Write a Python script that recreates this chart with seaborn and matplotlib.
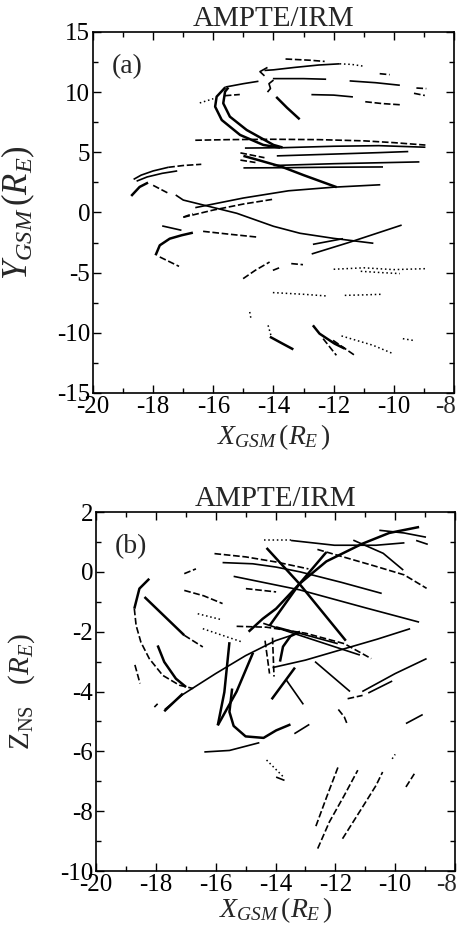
import matplotlib
matplotlib.use("Agg")
import matplotlib.pyplot as plt
import pandas as pd
import seaborn as sns
from matplotlib.ticker import MultipleLocator, FuncFormatter

# ---------------- data: spacecraft track segments (X_GSM, Y_GSM) ----------------
a01 = [(-15.6, 10.4), (-15.89, 9.62), (-15.94, 8.79), (-15.72, 7.68), (-15.11, 6.44), (-14.34, 5.61), (-13.78, 5.38)]
a02 = [(-15.5, 10.38), (-15.61, 10.04), (-15.67, 9.07), (-15.45, 7.96), (-14.89, 6.85), (-14.0, 5.61), (-13.7, 5.4)]
a03 = [(-15.6, 10.42), (-15.0, 10.7), (-14.5, 10.9)]
a04 = [(-14.3, 11.8), (-14.0, 11.85), (-13.3, 12.05), (-12.5, 12.25), (-11.8, 12.35)]
a05 = [(-11.8, 12.35), (-11.4, 12.3), (-11.0, 12.15)]
a06 = [(-14.2, 12.05), (-14.45, 11.7), (-14.3, 11.35)]
a07 = [(-13.6, 12.75), (-13.2, 12.7), (-12.8, 12.65), (-12.3, 12.55)]
a08 = [(-14.02, 11.12), (-13.0, 11.12), (-12.25, 11.07)]
a09 = [(-11.47, 10.93), (-10.6, 10.78), (-9.8, 10.57)]
a10 = [(-10.47, 11.53), (-10.14, 11.45)]
a11 = [(-9.25, 10.34), (-8.92, 10.29)]
a12 = [(-9.33, 9.9), (-8.97, 9.72)]
a13 = [(-12.74, 9.79), (-12.0, 9.75), (-11.36, 9.6)]
a14 = [(-10.95, 9.2), (-10.4, 9.05), (-9.8, 8.95)]
a15 = [(-13.91, 9.6), (-13.55, 8.7), (-13.13, 7.74)]
a16 = [(-14.0, 11.0), (-14.15, 10.7), (-14.1, 10.3), (-14.2, 10.0)]
a17 = [(-16.45, 9.1), (-16.0, 9.45)]
a18 = [(-15.62, 9.7), (-15.12, 9.8)]
a19 = [(-16.6, 6.0), (-15.5, 6.05), (-14.0, 6.08), (-12.5, 6.05), (-11.0, 5.95), (-10.0, 5.8), (-8.95, 5.6)]
a20 = [(-14.95, 5.35), (-13.7, 5.38), (-12.0, 5.5), (-10.5, 5.55), (-8.95, 5.42)]
a21 = [(-13.89, 4.7), (-12.0, 4.85), (-10.5, 4.97), (-9.52, 5.06)]
a22 = [(-14.0, 3.9), (-12.0, 4.05), (-9.15, 4.2)]
a23 = [(-15.0, 3.7), (-13.57, 3.72), (-12.0, 3.76), (-10.36, 3.78)]
a24 = [(-15.0, 4.7), (-14.5, 4.35), (-13.73, 3.8), (-13.0, 3.1), (-11.9, 2.1)]
a25 = [(-15.1, 4.95), (-14.3, 4.55)]
a26 = [(-15.1, 4.35), (-14.6, 4.15)]
a27 = [(-16.6, 0.4), (-15.0, 1.2), (-13.5, 1.8), (-12.0, 2.1), (-10.45, 2.3)]
a28 = [(-17.0, -0.4), (-16.0, 0.2), (-15.0, 0.7), (-14.0, 1.1)]
a29 = [(-17.25, 1.45), (-17.0, 1.03), (-15.22, -0.07), (-14.0, -1.15), (-13.12, -1.73), (-12.01, -2.15), (-10.68, -2.56)]
a30 = [(-12.73, -3.45), (-11.5, -2.5), (-9.74, -1.05)]
a31 = [(-12.69, -2.65), (-11.69, -2.18)]
a32 = [(-17.92, -3.56), (-17.78, -2.73), (-17.45, -2.18), (-17.06, -1.9), (-16.68, -1.68)]
a33 = [(-17.78, -3.7), (-17.14, -4.48)]
a34 = [(-17.7, -1.12), (-17.06, -1.48)]
a35 = [(-16.34, -1.57), (-15.5, -1.8), (-14.57, -2.04)]
a36 = [(-16.99, -0.38), (-16.68, -0.1)]
a37 = [(-18.65, 2.75), (-18.4, 3.1), (-18.0, 3.45), (-17.5, 3.75)]
a38 = [(-17.5, 3.75), (-17.0, 3.9), (-16.4, 4.0)]
a39 = [(-18.55, 2.6), (-18.2, 2.95), (-17.7, 3.25), (-17.2, 3.45)]
a40 = [(-18.73, 1.37), (-18.45, 2.12), (-18.17, 2.48)]
a41 = [(-18.0, 2.25), (-17.5, 1.6)]
a42 = [(-12.0, -4.72), (-11.0, -4.6), (-10.0, -4.75), (-8.92, -4.67)]
a43 = [(-11.1, -4.89), (-10.4, -5.0), (-9.8, -5.08)]
a44 = [(-14.02, -4.81), (-13.74, -4.53)]
a45 = [(-13.41, -4.25), (-13.02, -4.34)]
a46 = [(-14.02, -6.66), (-13.0, -6.8), (-12.24, -6.94)]
a47 = [(-11.63, -6.89), (-11.0, -6.85), (-10.41, -6.8)]
a48 = [(-12.69, -9.38), (-12.47, -10.07), (-11.97, -10.9), (-11.63, -11.32)]
a49 = [(-12.35, -10.49), (-11.91, -11.87)]
a50 = [(-12.02, -10.63), (-11.3, -11.87)]
a51 = [(-11.74, -10.26), (-10.69, -11.04), (-10.03, -11.73)]
a52 = [(-9.7, -10.49), (-9.36, -10.63)]
a53 = [(-14.12, -10.33), (-13.7, -10.9), (-13.34, -11.38)]
a54 = [(-15.01, -5.5), (-14.6, -4.8), (-14.13, -4.12)]
a55 = [(-14.79, -8.27), (-14.74, -8.96)]
a56 = [(-14.18, -9.38), (-14.07, -10.35)]

# ---------------- data: track segments (X_GSM, Z_NS) ----------------
b01 = [(-18.22, -0.23), (-18.55, -0.56), (-18.72, -1.23)]
b02 = [(-18.72, -1.23), (-18.66, -1.79), (-18.5, -2.35), (-18.22, -2.9), (-17.77, -3.46), (-17.21, -3.79), (-16.75, -3.9)]
b03 = [(-18.7, -3.11), (-18.53, -3.73)]
b04 = [(-18.38, -0.84), (-17.05, -2.12)]
b05 = [(-17.05, -2.12), (-16.43, -2.51)]
b06 = [(-17.94, -2.46), (-17.72, -3.01), (-17.33, -3.57), (-16.99, -3.85)]
b07 = [(-16.04, 0.61), (-14.99, 0.5), (-13.98, 0.33), (-12.9, 0.1)]
b08 = [(-15.77, 0.31), (-14.76, 0.27), (-13.98, 0.16), (-13.18, 0.0), (-11.8, -0.35), (-10.45, -0.72)]
b09 = [(-17.05, -0.06), (-16.66, 0.1)]
b10 = [(-17.05, -0.62), (-16.4, -0.8), (-15.77, -1.06)]
b11 = [(-14.99, -0.56), (-13.98, -0.67)]
b12 = [(-16.43, -1.9), (-15.1, -2.35)]
b13 = [(-14.3, 0.8), (-13.2, -0.4), (-11.65, -2.3)]
b14 = [(-14.9, -2.0), (-14.43, -1.57), (-13.98, -1.23), (-13.2, -0.4), (-12.3, 0.66)]
b15 = [(-14.2, -1.8), (-13.2, -0.4), (-12.3, 0.35), (-11.1, 0.94), (-10.2, 1.3), (-9.2, 1.5)]
b16 = [(-15.4, -0.15), (-13.2, -0.6), (-11.0, -1.2), (-9.2, -1.68)]
b17 = [(-11.4, 1.06), (-10.4, 0.62), (-9.73, 0.06)]
b18 = [(-10.53, 1.39), (-9.7, 1.3), (-8.97, 1.16)]
b19 = [(-9.3, 1.05), (-8.91, 0.92)]
b20 = [(-13.48, 1.05), (-12.03, 0.89), (-10.64, 0.89), (-9.69, 0.97)]
b21 = [(-14.4, 1.05), (-13.48, 1.05)]
b22 = [(-12.6, 0.75), (-10.7, 0.2), (-9.7, -0.1), (-8.95, -0.55)]
b23 = [(-14.41, -1.72), (-12.8, -2.25), (-11.18, -2.78)]
b24 = [(-15.3, -1.82), (-14.3, -1.85), (-13.0, -2.05), (-11.7, -2.4), (-10.8, -2.9)]
b25 = [(-13.98, -1.84), (-11.92, -2.4)]
b26 = [(-17.7, -4.6), (-17.1, -4.1), (-16.0, -3.4), (-15.0, -2.8), (-14.0, -2.3), (-13.4, -2.1)]
b27 = [(-14.1, -3.2), (-13.0, -2.95), (-11.8, -2.6), (-10.6, -2.25), (-9.5, -1.9)]
b28 = [(-12.68, -3.0), (-11.51, -4.0)]
b29 = [(-13.85, -3.0), (-13.75, -2.5), (-13.5, -2.15), (-13.18, -2.0)]
b30 = [(-14.13, -4.26), (-13.35, -3.2)]
b31 = [(-13.65, -3.6), (-13.07, -4.43)]
b32 = [(-15.93, -5.13), (-15.71, -4.02), (-15.54, -2.35)]
b33 = [(-15.93, -5.13), (-15.3, -4.0), (-14.75, -2.7)]
b34 = [(-15.45, -3.9), (-15.54, -4.68), (-15.4, -5.15), (-15.0, -5.5), (-14.4, -5.55), (-13.98, -5.3), (-13.5, -5.1)]
b35 = [(-16.38, -6.02), (-15.54, -5.97), (-14.54, -5.71)]
b36 = [(-17.72, -4.66), (-17.1, -4.07)]
b37 = [(-18.05, -4.52), (-17.94, -4.41)]
b38 = [(-12.59, -9.25), (-12.2, -8.36), (-11.7, -7.47), (-11.25, -6.63)]
b39 = [(-12.65, -8.5), (-12.3, -7.55), (-11.9, -6.5)]
b40 = [(-11.76, -8.92), (-11.09, -7.86), (-10.64, -7.14), (-10.42, -6.69)]
b41 = [(-9.64, -7.19), (-9.36, -6.75)]
b42 = [(-10.1, -6.25), (-10.0, -6.1)]
b43 = [(-9.64, -5.07), (-9.08, -4.77)]
b44 = [(-13.37, -5.41), (-12.87, -5.1)]
b45 = [(-11.9, -4.6), (-11.7, -4.85), (-11.6, -5.1)]
b46 = [(-11.59, -4.24), (-11.09, -4.13)]
b47 = [(-13.98, -6.86), (-13.7, -6.97)]
b48 = [(-14.3, -6.29), (-13.74, -6.85)]
b49 = [(-11.1, -4.0), (-10.0, -3.4), (-8.95, -2.9)]
b50 = [(-10.9, -4.05), (-10.1, -3.65)]
b51 = [(-14.35, -2.3), (-14.2, -3.4)]
b52 = [(-14.1, -2.2), (-14.05, -3.5)]
b53 = [(-16.6, -1.4), (-15.8, -1.6)]

# line style of each segment (S thick solid, s thin solid, D dashed, d dotted)
panel_a_styles = {
    "a01": "S", "a02": "S", "a03": "s", "a04": "s", "a05": "d", "a06": "s", "a07": "D",
    "a08": "s", "a09": "s", "a10": "D", "a11": "D", "a12": "D", "a13": "s", "a14": "D",
    "a15": "S", "a16": "s", "a17": "d", "a18": "D", "a19": "D", "a20": "s", "a21": "s",
    "a22": "s", "a23": "s", "a24": "S", "a25": "D", "a26": "D", "a27": "s", "a28": "D",
    "a29": "s", "a30": "s", "a31": "s", "a32": "S", "a33": "D", "a34": "s", "a35": "D",
    "a36": "D", "a37": "s", "a38": "D", "a39": "s", "a40": "S", "a41": "D", "a42": "d",
    "a43": "d", "a44": "D", "a45": "D", "a46": "d", "a47": "d", "a48": "S", "a49": "D",
    "a50": "D", "a51": "d", "a52": "d", "a53": "S", "a54": "D", "a55": "d", "a56": "d",
}
panel_b_styles = {
    "b01": "S", "b02": "D", "b03": "D", "b04": "S", "b05": "D", "b06": "S", "b07": "D",
    "b08": "s", "b09": "D", "b10": "D", "b11": "D", "b12": "d", "b13": "S", "b14": "S",
    "b15": "S", "b16": "s", "b17": "s", "b18": "s", "b19": "s", "b20": "s", "b21": "d",
    "b22": "D", "b23": "s", "b24": "D", "b25": "s", "b26": "s", "b27": "s", "b28": "s",
    "b29": "S", "b30": "S", "b31": "s", "b32": "S", "b33": "S", "b34": "S", "b35": "s",
    "b36": "S", "b37": "D", "b38": "D", "b39": "D", "b40": "D", "b41": "D", "b42": "d",
    "b43": "s", "b44": "s", "b45": "D", "b46": "D", "b47": "s", "b48": "d", "b49": "s",
    "b50": "s", "b51": "D", "b52": "D", "b53": "d",
}

title_text = "AMPTE/IRM"
panel_tags = ["(a)", "(b)"]
xlabel_text = r"$X_{GSM}\,(R_E\,)$"
ylabel_a = r"$Y_{GSM}\,(R_E)$"
ylabel_b = r"$\mathrm{Z}_{\mathrm{NS}}\quad(R_E)$"

# ---------------- style ----------------
sns.set_style("ticks")
plt.rcParams.update({
    "font.family": ["Liberation Serif", "DejaVu Serif"],
    "mathtext.fontset": "custom",
    "mathtext.rm": "Liberation Serif",
    "mathtext.it": "Liberation Serif:italic",
    "mathtext.bf": "Liberation Serif:bold",
    "axes.unicode_minus": False,
    "axes.edgecolor": "black",
    "axes.linewidth": 1.2,
    "xtick.color": "black",
    "ytick.color": "black",
})

STYLE = {
    "S": dict(linewidth=1.8, linestyle="-"),
    "s": dict(linewidth=1.2, linestyle="-"),
    "D": dict(linewidth=1.2, linestyle=(0, (4, 1.6))),
    "d": dict(linewidth=1.1, linestyle=(0, (1, 1.8))),
}
TICK_SIZE = 18


def build_frame(styles):
    rows = []
    g = globals()
    for name, st in styles.items():
        for i, (x, y) in enumerate(g[name]):
            rows.append({"track": name, "order": i, "x": x, "y": y, "style": st})
    return pd.DataFrame(rows)


def draw_tracks(ax, df):
    for st, kw in STYLE.items():
        sub = df[df["style"] == st]
        if sub.empty:
            continue
        sns.lineplot(data=sub, x="x", y="y", units="track", estimator=None,
                     sort=False, color="black", ax=ax, solid_capstyle="butt",
                     dash_capstyle="butt", **kw)


def xfmt(v, pos):
    # the right-most label is drawn separately so that it stays inside the figure
    if abs(v - (-8)) < 1e-6:
        return ""
    return "%d" % round(v)


def style_axes(ax, ylim, ymajor, yminor, ylabel, ylabel_size, tag, ylab_x, xlab_y):
    ax.set_xlim(-20, -8)
    ax.set_ylim(*ylim)
    ax.xaxis.set_major_locator(MultipleLocator(2))
    ax.xaxis.set_minor_locator(MultipleLocator(1))
    ax.xaxis.set_major_formatter(FuncFormatter(xfmt))
    ax.yaxis.set_major_locator(MultipleLocator(ymajor))
    ax.yaxis.set_minor_locator(MultipleLocator(yminor))
    ax.tick_params(which="both", direction="in", top=True, right=True, width=1.0)
    ax.tick_params(which="major", length=6, labelsize=TICK_SIZE, pad=2)
    ax.tick_params(which="minor", length=3.5)
    ax.annotate("-8", xy=(1.0, 0.0), xycoords="axes fraction", xytext=(1.5, -2),
                textcoords="offset points", ha="right", va="top", fontsize=TICK_SIZE)
    ax.set_xlabel(xlabel_text, fontsize=20)
    ax.set_ylabel(ylabel, fontsize=ylabel_size)
    ax.yaxis.set_label_coords(ylab_x, 0.5)
    ax.xaxis.set_label_coords(0.5, xlab_y)
    ax.set_title(title_text, fontsize=21, pad=2)
    ax.text(0.052, 0.905, tag, transform=ax.transAxes, fontsize=20,
            ha="left", va="center")
    for sp in ax.spines.values():
        sp.set_visible(True)
        sp.set_linewidth(1.2)


fig = plt.figure(figsize=(4.59, 9.39), dpi=100)
ax_a = fig.add_axes([0.2026, 0.5815, 0.7865, 0.3845])
ax_b = fig.add_axes([0.2092, 0.0724, 0.7821, 0.3823])

draw_tracks(ax_a, build_frame(panel_a_styles))
draw_tracks(ax_b, build_frame(panel_b_styles))

style_axes(ax_a, (-15, 15), 5, 2.5, ylabel_a, 25, panel_tags[0], -0.155, -0.08)
style_axes(ax_b, (-10, 2), 2, 1, ylabel_b, 21, panel_tags[1], -0.164, -0.067)

fig.savefig("out.png", dpi=100, facecolor="white")
